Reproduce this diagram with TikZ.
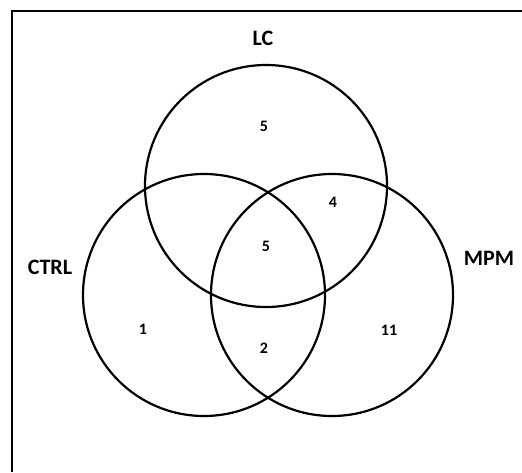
\documentclass[tikz,border=0pt]{standalone}
\usepackage{fontspec}
\setmainfont{Carlito}
\begin{document}
\begin{tikzpicture}[x=1pt,y=-1pt]
\tikzset{
  setcircle/.style={draw, circle, line width=2.2pt, minimum size=242pt, inner sep=0pt},
  setlabel/.style={font=\fontsize{22}{26}\selectfont\bfseries},
  count/.style={font=\fontsize{16}{19}\selectfont\bfseries}
}
\useasboundingbox (0,0) rectangle (522,472);
\draw[line width=2pt] (522,11) -- (11.5,11) -- (11.5,472);
% the three sets
\node[setcircle] (lc) at (266,186) {};
\node[setcircle] (ctrl) at (204,295) {};
\node[setcircle] (mpm) at (332,295) {};
% set names
\node[setlabel] (lclabel) at (263,38) {LC};
\node[setlabel] (ctrllabel) at (50,267) {CTRL};
\node[setlabel] (mpmlabel) at (489,258) {MPM};
% region counts
\node[count] (nlc) at (264,126) {5};
\node[count] (nlcmpm) at (333,202) {4};
\node[count] (nall) at (266,246) {5};
\node[count] (nctrl) at (143,329) {1};
\node[count] (nctrlmpm) at (264,348) {2};
\node[count] (nmpm) at (389,330) {11};
\end{tikzpicture}
\end{document}
